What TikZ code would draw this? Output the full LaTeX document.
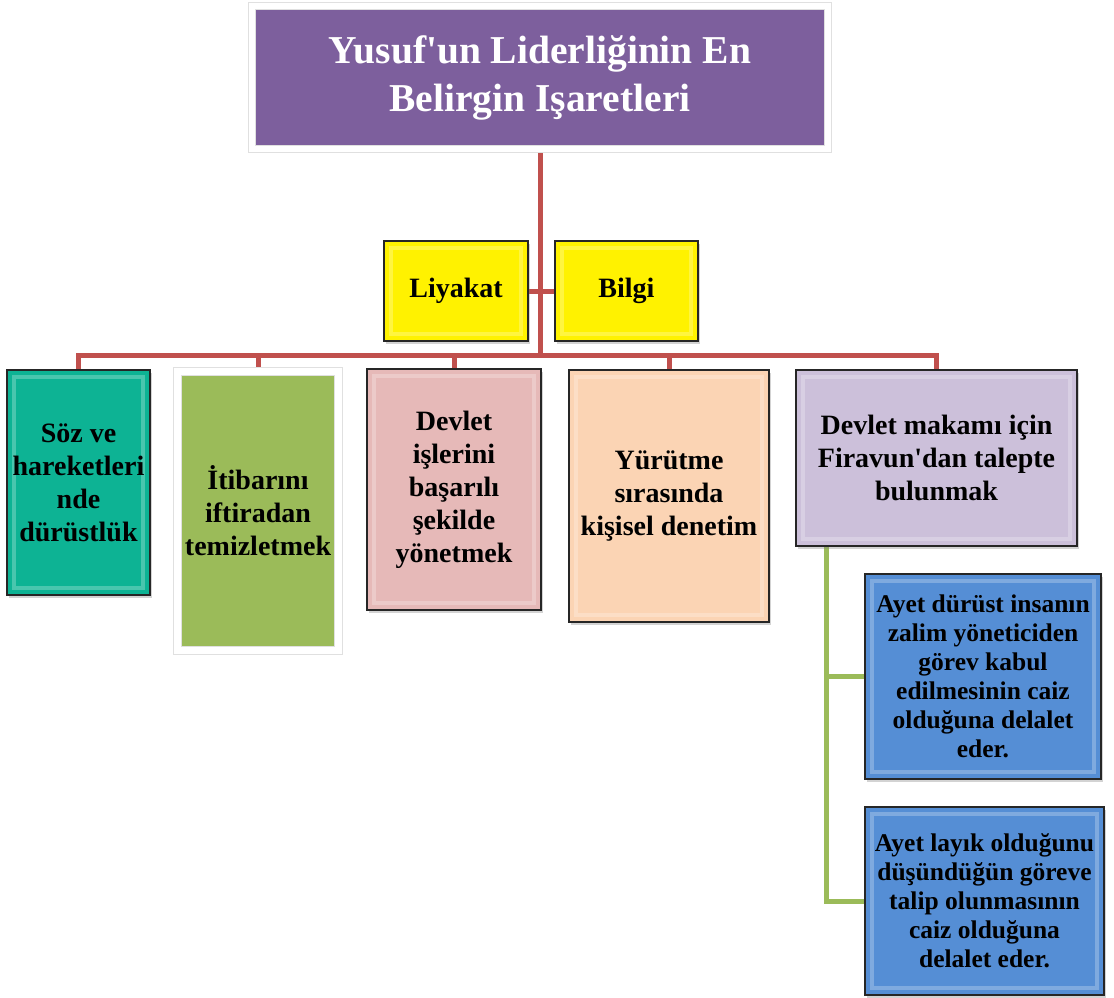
\documentclass[tikz,border=0pt]{standalone}
\usepackage{fontspec}
\setmainfont{Liberation Serif}
\usetikzlibrary{shadows,backgrounds}
\definecolor{plum}{HTML}{7D5F9D}
\definecolor{rust}{HTML}{C0504D}
\definecolor{olive}{HTML}{9BBB59}
\definecolor{teal}{HTML}{0DB394}
\definecolor{rose}{HTML}{E6B9B8}
\definecolor{peach}{HTML}{FBD4B4}
\definecolor{lilac}{HTML}{CCC0DA}
\definecolor{sky}{HTML}{558ED5}
\begin{document}
\begin{tikzpicture}
  [x=1pt, y=-1pt,
   bevel/.style={path picture={
     \draw[white, opacity=.25, line width=4pt]
       ([shift={(7pt,-7pt)}]path picture bounding box.north west) rectangle
       ([shift={(-7pt,7pt)}]path picture bounding box.south east);}},
   card/.style={draw=black!85, line width=1.3pt, align=center, inner sep=2pt,
     font=\fontsize{28}{33}\selectfont\bfseries,
     drop shadow={opacity=.35, shadow xshift=2pt, shadow yshift=-2.5pt}, bevel},
   frame/.style={draw=black!12, line width=1pt, double=white, align=center, inner sep=2pt,
     drop shadow={opacity=.25, shadow xshift=1.5pt, shadow yshift=-2.5pt}},
   note/.style={card, font=\fontsize{25.5}{29}\selectfont\bfseries, fill=sky},
   link/.style={rust, line width=5pt},
   stem/.style={olive, line width=5pt}]
  \useasboundingbox (0,0) rectangle (1114,998);
  % head
  \node[frame, double distance=6pt, fill=plum, text=white, minimum width=576pt, minimum height=142pt,
        font=\fontsize{39.5}{48}\selectfont\bfseries] (title) at (540,77.5)
        {Yusuf\textquotesingle un Liderliğinin En\\Belirgin Işaretleri};
  \node[card, fill=yellow, minimum width=144pt, minimum height=100pt] (liyakat) at (456,291) {Liyakat};
  \node[card, fill=yellow, minimum width=143pt, minimum height=100pt] (bilgi) at (626.5,291) {Bilgi};
  % row
  \node[card, fill=teal, minimum width=143pt, minimum height=225pt] (soz) at (78.5,482.5)
        {Söz ve\\hareketleri\\nde\\dürüstlük};
  \node[frame, double distance=7pt, fill=olive, minimum width=161pt, minimum height=279pt,
        font=\fontsize{28}{33}\selectfont\bfseries] (itibar) at (258,511)
        {İtibarını\\iftiradan\\temizletmek};
  \node[card, fill=rose, minimum width=174pt, minimum height=241pt] (devlet) at (454,489.5)
        {Devlet\\işlerini\\başarılı\\şekilde\\yönetmek};
  \node[card, fill=peach, minimum width=200pt, minimum height=252pt] (yurutme) at (669,496)
        {Yürütme\\sırasında\\kişisel denetim};
  \node[card, fill=lilac, minimum width=281pt, minimum height=176pt] (makam) at (936.5,458)
        {Devlet makamı için\\Firavun\textquotesingle dan talepte\\bulunmak};
  % notes
  \node[note, minimum width=236pt, minimum height=205pt] (ayet1) at (983,676.5)
        {Ayet dürüst insanın\\zalim yöneticiden\\görev kabul\\edilmesinin caiz\\olduğuna delalet\\eder.};
  \node[note, minimum width=239pt, minimum height=188pt] (ayet2) at (984.5,901)
        {Ayet layık olduğunu\\düşündüğün göreve\\talip olunmasının\\caiz olduğuna\\delalet eder.};
  \coordinate (bar) at (540,355);
  \coordinate (trunk) at (826,546);
  \begin{scope}[on background layer]
    \draw[link] (title) -- (bar);
    \draw[link] (liyakat) -- (bilgi);
    \draw[link] (soz) |- (bar) -| (makam);
    \foreach \n in {itibar,devlet,yurutme}
      \draw[link] (\n |- bar) -- (\n);
    \draw[stem] (trunk) |- (ayet1);
    \draw[stem] (trunk) |- (ayet2);
  \end{scope}
\end{tikzpicture}
\end{document}
